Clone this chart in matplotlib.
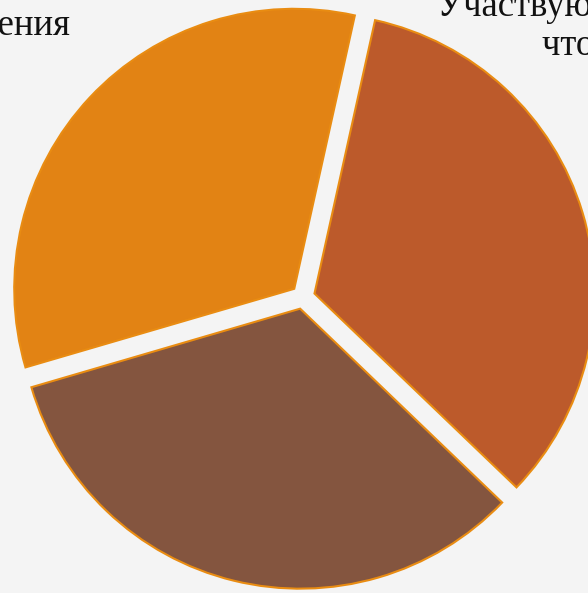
import matplotlib
matplotlib.use("Agg")
import matplotlib.pyplot as plt
from matplotlib import font_manager

# slice shares and colours, counter-clockwise from the top
shares = [33.0, 33.3, 33.7]
colors = ["#E28314", "#84553F", "#BC5A2B"]
edge_color = "#E98C12"

# label lines that show inside the crop
left_label = "Для общения"
right_label_lines = ["Участвую в обсуждениях,", "что интересно"]

W, H = 588, 593
fig = plt.figure(figsize=(W / 100, H / 100), dpi=100)
fig.patch.set_facecolor("#F4F4F4")
ax = fig.add_axes([0, 0, 1, 1])
ax.set_facecolor("#F4F4F4")

# pie in pixel units so the crop matches
ax.pie(shares, colors=colors, startangle=77.5, counterclock=True,
       radius=280, center=(303, H - 297), explode=[12, 12, 12],
       wedgeprops=dict(edgecolor=edge_color, linewidth=1.5))

ax.set_xlim(0, W)
ax.set_ylim(0, H)
ax.set_aspect("equal")
ax.axis("off")

serif_path = font_manager.findfont(font_manager.FontProperties(family="Liberation Serif"))
font = dict(fontproperties=font_manager.FontProperties(fname=serif_path, size=26.5),
            color="#111111")
ax.text(70, H - 35, left_label, ha="right", va="baseline", **font)
ax.text(437, H - 16, right_label_lines[0], ha="left", va="baseline", **font)
ax.text(542, H - 55, right_label_lines[1], ha="left", va="baseline", **font)

fig.savefig("out.png", dpi=100, facecolor=fig.get_facecolor())
